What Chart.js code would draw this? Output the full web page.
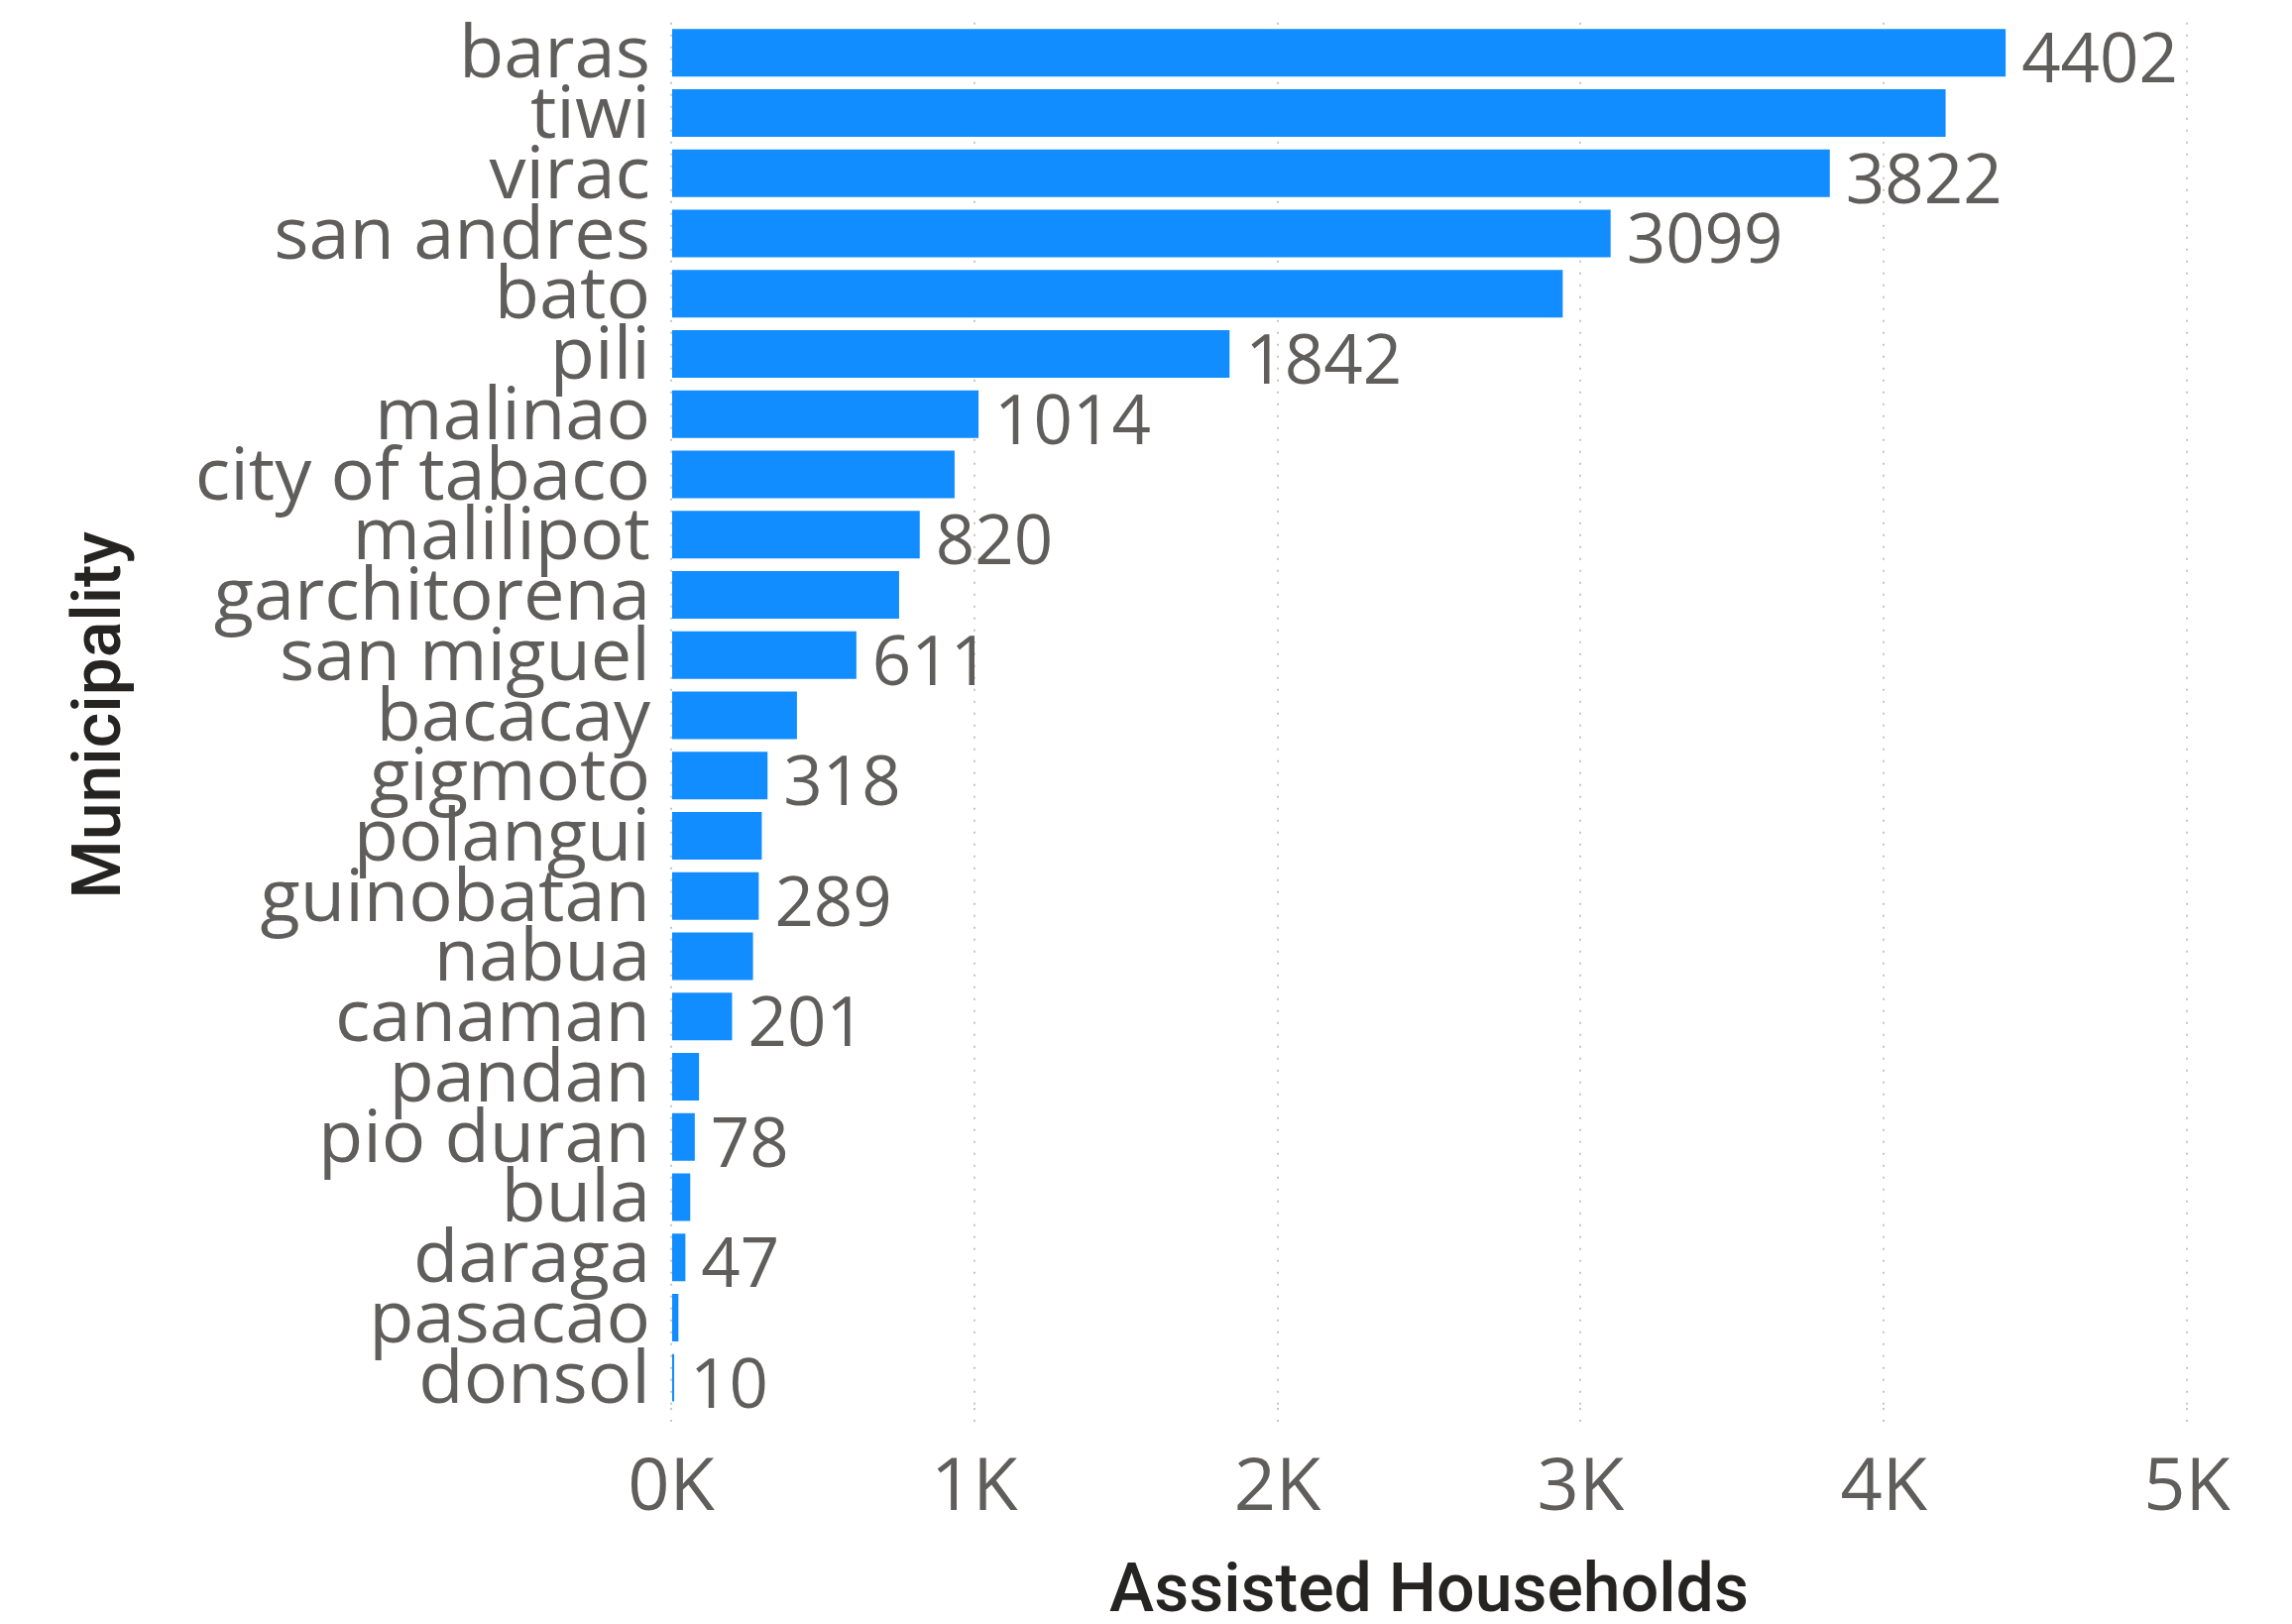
<!DOCTYPE html>
<html>
<head>
<meta charset="utf-8">
<script src="https://cdn.jsdelivr.net/npm/chart.js@4.4.1/dist/chart.umd.min.js"></script>
<style>
  html, body { margin: 0; padding: 0; background: #fff; }
</style>
</head>
<body>
<canvas id="myChart" width="2312" height="1638"></canvas>
<script>
const municipalities = [
    'baras', 'tiwi', 'virac', 'san andres', 'bato', 'pili', 'malinao',
    'city of tabaco', 'malilipot', 'garchitorena', 'san miguel', 'bacacay',
    'gigmoto', 'polangui', 'guinobatan', 'nabua', 'canaman', 'pandan',
    'pio duran', 'bula', 'daraga', 'pasacao', 'donsol',
];

const households = [
    4402, 4204, 3822, 3099, 2941, 1842, 1014,
    935, 820, 752, 611, 415,
    318, 299, 289, 270, 201, 92,
    78, 63, 47, 24, 10,
];

const xTicks = [0, 1000, 2000, 3000, 4000, 5000];

const tickGray = '#605E5C';
const titleDark = '#252423';

// value labels: a label is dropped when it would collide with one already drawn
const barLabels = {
    id: 'barLabels',
    afterDatasetsDraw(chart) {
        const ctx = chart.ctx;
        const meta = chart.getDatasetMeta(0);
        const boxH = 84;
        const placed = [];
        ctx.save();
        ctx.font = '69px "Open Sans"';
        ctx.fillStyle = tickGray;
        ctx.textAlign = 'left';
        ctx.textBaseline = 'alphabetic';
        meta.data.forEach((bar, i) => {
            const txt = String(households[i]);
            const x0 = bar.x + 16;
            const x1 = x0 + ctx.measureText(txt).width;
            const y0 = bar.y + 8 - boxH / 2;
            const y1 = y0 + boxH;
            const hit = placed.some(b => x0 < b.x1 && x1 > b.x0 && y0 < b.y1 && y1 > b.y0);
            if (hit) return;
            placed.push({ x0, x1, y0, y1 });
            ctx.fillText(txt, x0, bar.y + 30);
        });
        ctx.restore();
    }
};

const data = {
    labels: municipalities,
    datasets: [{
        label: 'Assisted Households',
        data: households,
        backgroundColor: '#118DFF',
        borderWidth: 0,
        barPercentage: 0.79,
        categoryPercentage: 1,
    }]
};

const config = {
    type: 'bar',
    data: data,
    plugins: [barLabels],
    options: {
        indexAxis: 'y',
        responsive: false,
        animation: false,
        layout: {
            padding: { top: 21, right: 106, bottom: 0, left: 0 }
        },
        plugins: {
            legend: { display: false },
            tooltip: { enabled: false }
        },
        scales: {
            x: {
                min: 0,
                max: 5000,
                afterBuildTicks: (scale) => {
                    scale.ticks = xTicks.map(v => ({ value: v }));
                },
                afterFit: (scale) => { scale.height = 218; },
                border: { display: false, dash: [2, 10] },
                grid: {
                    color: '#C8C6C4',
                    lineWidth: 2,
                    drawTicks: true,
                    tickLength: 17,
                    tickBorderDash: [2, 10],
                },
                ticks: {
                    padding: 21,
                    color: tickGray,
                    font: { family: 'Open Sans', size: 74 },
                    callback: (v) => (v / 1000) + 'K',
                },
                title: {
                    display: true,
                    text: 'Assisted Households',
                    color: titleDark,
                    font: { family: 'Roboto', size: 68, weight: '500', lineHeight: 1 },
                    padding: { top: 0, bottom: -4 },
                }
            },
            y: {
                afterFit: (scale) => { scale.width = 677; },
                border: { display: false },
                grid: { display: false, drawTicks: false },
                ticks: {
                    padding: 21,
                    labelOffset: 4,
                    autoSkip: false,
                    color: tickGray,
                    font: { family: 'Open Sans', size: 74, lineHeight: 0.05 },
                },
                title: {
                    display: true,
                    text: 'Municipality',
                    color: titleDark,
                    font: { family: 'Roboto', size: 68, weight: '500', lineHeight: 1 },
                    padding: { top: 70, bottom: 0 },
                }
            }
        }
    }
};

const myChart = new Chart(document.getElementById('myChart'), config);
</script>
</body>
</html>
